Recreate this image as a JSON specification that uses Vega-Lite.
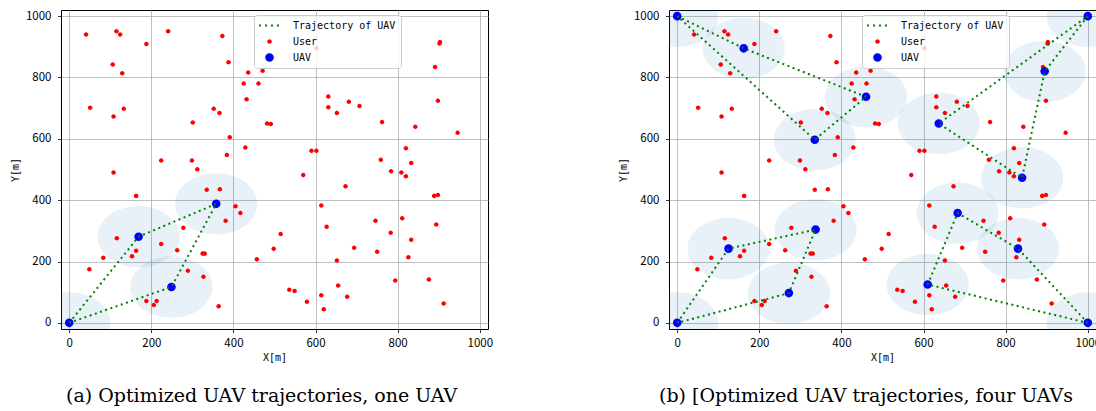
{
  "$schema": "https://vega.github.io/schema/vega-lite/v6.json",
  "background": "white",
  "padding": {"left": 10, "top": 9, "right": 0, "bottom": 0},
  "datasets": {
    "users": [
      {"x":41,"y":940},{"x":115,"y":951},{"x":124,"y":940},{"x":241,"y":951},{"x":188,"y":909},{"x":373,"y":935},{"x":106,"y":842},{"x":129,"y":814},{"x":388,"y":850},{"x":436,"y":816},
      {"x":471,"y":822},{"x":425,"y":780},{"x":461,"y":780},{"x":432,"y":729},{"x":51,"y":701},{"x":133,"y":698},{"x":108,"y":673},{"x":352,"y":698},{"x":366,"y":684},{"x":301,"y":653},
      {"x":482,"y":650},{"x":491,"y":648},{"x":391,"y":605},{"x":429,"y":572},{"x":384,"y":547},{"x":224,"y":529},{"x":299,"y":529},{"x":312,"y":501},{"x":108,"y":490},{"x":163,"y":414},
      {"x":335,"y":434},{"x":367,"y":436},{"x":405,"y":380},{"x":417,"y":358},{"x":381,"y":333},{"x":278,"y":310},{"x":116,"y":276},{"x":224,"y":257},{"x":163,"y":235},{"x":153,"y":217},
      {"x":263,"y":237},{"x":83,"y":212},{"x":325,"y":226},{"x":330,"y":226},{"x":49,"y":175},{"x":289,"y":170},{"x":327,"y":150},{"x":188,"y":71},{"x":213,"y":71},{"x":206,"y":58},
      {"x":364,"y":54},{"x":602,"y":895},{"x":631,"y":738},{"x":631,"y":703},{"x":681,"y":721},{"x":707,"y":707},{"x":652,"y":684},{"x":762,"y":655},{"x":898,"y":724},{"x":891,"y":834},
      {"x":902,"y":911},{"x":903,"y":916},{"x":843,"y":639},{"x":946,"y":620},{"x":590,"y":561},{"x":602,"y":561},{"x":570,"y":482},{"x":820,"y":569},{"x":759,"y":532},{"x":833,"y":521},
      {"x":784,"y":494},{"x":809,"y":490},{"x":820,"y":478},{"x":673,"y":445},{"x":889,"y":414},{"x":898,"y":417},{"x":614,"y":383},{"x":746,"y":333},{"x":811,"y":341},{"x":783,"y":294},
      {"x":627,"y":313},{"x":515,"y":290},{"x":894,"y":321},{"x":833,"y":271},{"x":498,"y":242},{"x":694,"y":245},{"x":750,"y":232},{"x":652,"y":203},{"x":457,"y":207},{"x":826,"y":214},
      {"x":794,"y":138},{"x":876,"y":141},{"x":655,"y":122},{"x":536,"y":108},{"x":549,"y":104},{"x":614,"y":90},{"x":677,"y":85},{"x":579,"y":69},{"x":620,"y":44},{"x":912,"y":63}
    ],
    "uav_a": [
      {"x":0,"y":0},{"x":169,"y":281},{"x":358,"y":388},{"x":249,"y":117}
    ],
    "traj_a": [
      {"uav":1,"o":0,"x":0,"y":0},{"uav":1,"o":1,"x":169,"y":281},{"uav":1,"o":2,"x":358,"y":388},{"uav":1,"o":3,"x":249,"y":117},{"uav":1,"o":4,"x":0,"y":0}
    ],
    "uav_b": [
      {"x":0,"y":0},{"x":0,"y":1000},{"x":1000,"y":1000},{"x":1000,"y":0},
      {"x":162,"y":895},{"x":460,"y":737},{"x":335,"y":597},
      {"x":895,"y":820},{"x":840,"y":473},{"x":637,"y":650},
      {"x":125,"y":242},{"x":337,"y":304},{"x":272,"y":97},
      {"x":830,"y":242},{"x":683,"y":358},{"x":610,"y":125}
    ],
    "traj_b": [
      {"uav":1,"o":0,"x":0,"y":1000},{"uav":1,"o":1,"x":162,"y":895},{"uav":1,"o":2,"x":460,"y":737},{"uav":1,"o":3,"x":335,"y":597},{"uav":1,"o":4,"x":0,"y":1000},
      {"uav":2,"o":0,"x":1000,"y":1000},{"uav":2,"o":1,"x":895,"y":820},{"uav":2,"o":2,"x":840,"y":473},{"uav":2,"o":3,"x":637,"y":650},{"uav":2,"o":4,"x":1000,"y":1000},
      {"uav":3,"o":0,"x":0,"y":0},{"uav":3,"o":1,"x":125,"y":242},{"uav":3,"o":2,"x":337,"y":304},{"uav":3,"o":3,"x":272,"y":97},{"uav":3,"o":4,"x":0,"y":0},
      {"uav":4,"o":0,"x":1000,"y":0},{"uav":4,"o":1,"x":830,"y":242},{"uav":4,"o":2,"x":683,"y":358},{"uav":4,"o":3,"x":610,"y":125},{"uav":4,"o":4,"x":1000,"y":0}
    ]
  },
  "hconcat": [
    {
      "width": 427, "height": 319,
      "title": {"text": "(a) Optimized UAV trajectories, one UAV", "orient": "bottom", "anchor": "start", "frame": "group", "dx": 5, "offset": 25, "font": "DejaVu Serif", "fontSize": 19, "fontWeight": "normal", "color": "black"},
      "layer": [
        {"data": {"name": "uav_a"},
         "mark": {"type": "point", "shape": "M 1 0 C 1 0.4126 0.5523 0.747 0 0.747 C -0.5523 0.747 -1 0.4126 -1 0 C -1 -0.4126 -0.5523 -0.747 0 -0.747 C 0.5523 -0.747 1 -0.4126 1 0 Z", "filled": true, "size": 6742, "color": "#1f77b4", "opacity": 0.1, "strokeWidth": 0, "clip": true},
         "encoding": {
           "x": {"field": "x", "type": "quantitative", "scale": {"domain": [-20, 1020], "nice": false, "zero": false}, "axis": {"title": "X[m]", "values": [0,200,400,600,800,1000], "format": "d", "labelFlush": false, "labelOverlap": false, "labelPadding": 5}},
           "y": {"field": "y", "type": "quantitative", "scale": {"domain": [-20, 1020], "nice": false, "zero": false}, "axis": {"title": "Y[m]", "values": [0,200,400,600,800,1000], "format": "d", "labelOverlap": false, "labelPadding": 6.5, "titlePadding": 4.5}}
         }},
        {"data": {"name": "users"},
         "mark": {"type": "point", "filled": true, "size": 121, "opacity": 1, "strokeWidth": 0, "clip": true},
         "encoding": {
           "x": {"field": "x", "type": "quantitative"},
           "y": {"field": "y", "type": "quantitative"},
           "color": {"datum": "User", "type": "nominal",
             "scale": {"domain": ["Trajectory of UAV", "User", "UAV"], "range": ["#008000", "#ff0000", "#0000ff"]},
             "legend": {"orient": "none", "legendX": 193, "legendY": 5, "title": null}},
           "shape": {"datum": "User", "type": "nominal",
             "scale": {"domain": ["Trajectory of UAV", "User", "UAV"], "range": [
               "M -1.91 -0.18 L -1.55 -0.18 L -1.55 0.18 L -1.91 0.18 Z M -0.82 -0.18 L -0.46 -0.18 L -0.46 0.18 L -0.82 0.18 Z M 0.27 -0.18 L 0.63 -0.18 L 0.63 0.18 L 0.27 0.18 Z M 1.36 -0.18 L 1.72 -0.18 L 1.72 0.18 L 1.36 0.18 Z",
               "M 0.41 0 C 0.41 0.2264 0.2264 0.41 0 0.41 C -0.2264 0.41 -0.41 0.2264 -0.41 0 C -0.41 -0.2264 -0.2264 -0.41 0 -0.41 C 0.2264 -0.41 0.41 -0.2264 0.41 0 Z",
               "M 0.78 0 C 0.78 0.4308 0.4308 0.78 0 0.78 C -0.4308 0.78 -0.78 0.4308 -0.78 0 C -0.78 -0.4308 -0.4308 -0.78 0 -0.78 C 0.4308 -0.78 0.78 -0.4308 0.78 0 Z"]},
             "legend": {"orient": "none", "legendX": 193, "legendY": 5, "title": null}}
         }},
        {"data": {"name": "uav_a"},
         "mark": {"type": "point", "filled": true, "size": 121, "opacity": 1, "strokeWidth": 0, "clip": true},
         "encoding": {
           "x": {"field": "x", "type": "quantitative"},
           "y": {"field": "y", "type": "quantitative"},
           "color": {"datum": "UAV", "type": "nominal"},
           "shape": {"datum": "UAV", "type": "nominal"}
         }},
        {"data": {"name": "traj_a"},
         "mark": {"type": "line", "strokeWidth": 2, "strokeDash": [2, 3.5], "clip": true},
         "encoding": {
           "x": {"field": "x", "type": "quantitative"},
           "y": {"field": "y", "type": "quantitative"},
           "order": {"field": "o", "type": "quantitative"},
           "detail": {"field": "uav", "type": "nominal"},
           "color": {"datum": "Trajectory of UAV", "type": "nominal"}
         }}
      ]
    },
    {
      "width": 427, "height": 319,
      "title": {"text": "(b) [Optimized UAV trajectories, four UAVs", "orient": "bottom", "anchor": "start", "frame": "group", "dx": -10, "offset": 25, "font": "DejaVu Serif", "fontSize": 19, "fontWeight": "normal", "color": "black"},
      "layer": [
        {"data": {"name": "uav_b"},
         "mark": {"type": "point", "shape": "M 1 0 C 1 0.4126 0.5523 0.747 0 0.747 C -0.5523 0.747 -1 0.4126 -1 0 C -1 -0.4126 -0.5523 -0.747 0 -0.747 C 0.5523 -0.747 1 -0.4126 1 0 Z", "filled": true, "size": 6742, "color": "#1f77b4", "opacity": 0.1, "strokeWidth": 0, "clip": true},
         "encoding": {
           "x": {"field": "x", "type": "quantitative", "scale": {"domain": [-20, 1020], "nice": false, "zero": false}, "axis": {"title": "X[m]", "values": [0,200,400,600,800,1000], "format": "d", "labelFlush": false, "labelOverlap": false, "labelPadding": 5}},
           "y": {"field": "y", "type": "quantitative", "scale": {"domain": [-20, 1020], "nice": false, "zero": false}, "axis": {"title": "Y[m]", "values": [0,200,400,600,800,1000], "format": "d", "labelOverlap": false, "labelPadding": 6.5, "titlePadding": 4.5}}
         }},
        {"data": {"name": "users"},
         "mark": {"type": "point", "filled": true, "size": 121, "opacity": 1, "strokeWidth": 0, "clip": true},
         "encoding": {
           "x": {"field": "x", "type": "quantitative"},
           "y": {"field": "y", "type": "quantitative"},
           "color": {"datum": "User", "type": "nominal",
             "scale": {"domain": ["Trajectory of UAV", "User", "UAV"], "range": ["#008000", "#ff0000", "#0000ff"]},
             "legend": {"orient": "none", "legendX": 193, "legendY": 5, "title": null}},
           "shape": {"datum": "User", "type": "nominal",
             "scale": {"domain": ["Trajectory of UAV", "User", "UAV"], "range": [
               "M -1.91 -0.18 L -1.55 -0.18 L -1.55 0.18 L -1.91 0.18 Z M -0.82 -0.18 L -0.46 -0.18 L -0.46 0.18 L -0.82 0.18 Z M 0.27 -0.18 L 0.63 -0.18 L 0.63 0.18 L 0.27 0.18 Z M 1.36 -0.18 L 1.72 -0.18 L 1.72 0.18 L 1.36 0.18 Z",
               "M 0.41 0 C 0.41 0.2264 0.2264 0.41 0 0.41 C -0.2264 0.41 -0.41 0.2264 -0.41 0 C -0.41 -0.2264 -0.2264 -0.41 0 -0.41 C 0.2264 -0.41 0.41 -0.2264 0.41 0 Z",
               "M 0.78 0 C 0.78 0.4308 0.4308 0.78 0 0.78 C -0.4308 0.78 -0.78 0.4308 -0.78 0 C -0.78 -0.4308 -0.4308 -0.78 0 -0.78 C 0.4308 -0.78 0.78 -0.4308 0.78 0 Z"]},
             "legend": {"orient": "none", "legendX": 193, "legendY": 5, "title": null}}
         }},
        {"data": {"name": "uav_b"},
         "mark": {"type": "point", "filled": true, "size": 121, "opacity": 1, "strokeWidth": 0, "clip": true},
         "encoding": {
           "x": {"field": "x", "type": "quantitative"},
           "y": {"field": "y", "type": "quantitative"},
           "color": {"datum": "UAV", "type": "nominal"},
           "shape": {"datum": "UAV", "type": "nominal"}
         }},
        {"data": {"name": "traj_b"},
         "mark": {"type": "line", "strokeWidth": 2, "strokeDash": [2, 3.5], "clip": true},
         "encoding": {
           "x": {"field": "x", "type": "quantitative"},
           "y": {"field": "y", "type": "quantitative"},
           "order": {"field": "o", "type": "quantitative"},
           "detail": {"field": "uav", "type": "nominal"},
           "color": {"datum": "Trajectory of UAV", "type": "nominal"}
         }}
      ]
    }
  ],
  "spacing": 124,
  "resolve": {"scale": {"color": "independent", "shape": "independent"}, "legend": {"color": "independent", "shape": "independent"}},
  "config": {
    "view": {"stroke": "black", "strokeWidth": 1},
    "axis": {
      "grid": true, "gridColor": "#b0b0b0", "gridWidth": 0.8, "domain": false,
      "tickColor": "black", "tickSize": 3.5, "tickWidth": 0.8,
      "labelFont": "Noto Sans CJK SC", "labelFontSize": 11.5, "labelColor": "black",
      "titleFont": "DejaVu Sans Mono", "titleFontSize": 10, "titleFontWeight": "normal", "titleColor": "black", "titlePadding": 3
    },
    "legend": {
      "symbolSize": 121, "symbolStrokeWidth": 0, "labelFont": "DejaVu Sans Mono", "labelFontSize": 10, "labelColor": "black",
      "fillColor": "rgba(255,255,255,0.8)", "strokeColor": "#cccccc", "cornerRadius": 3,
      "padding": 5, "rowPadding": 5, "symbolOffset": 5, "labelOffset": 18
    }
  }
}
